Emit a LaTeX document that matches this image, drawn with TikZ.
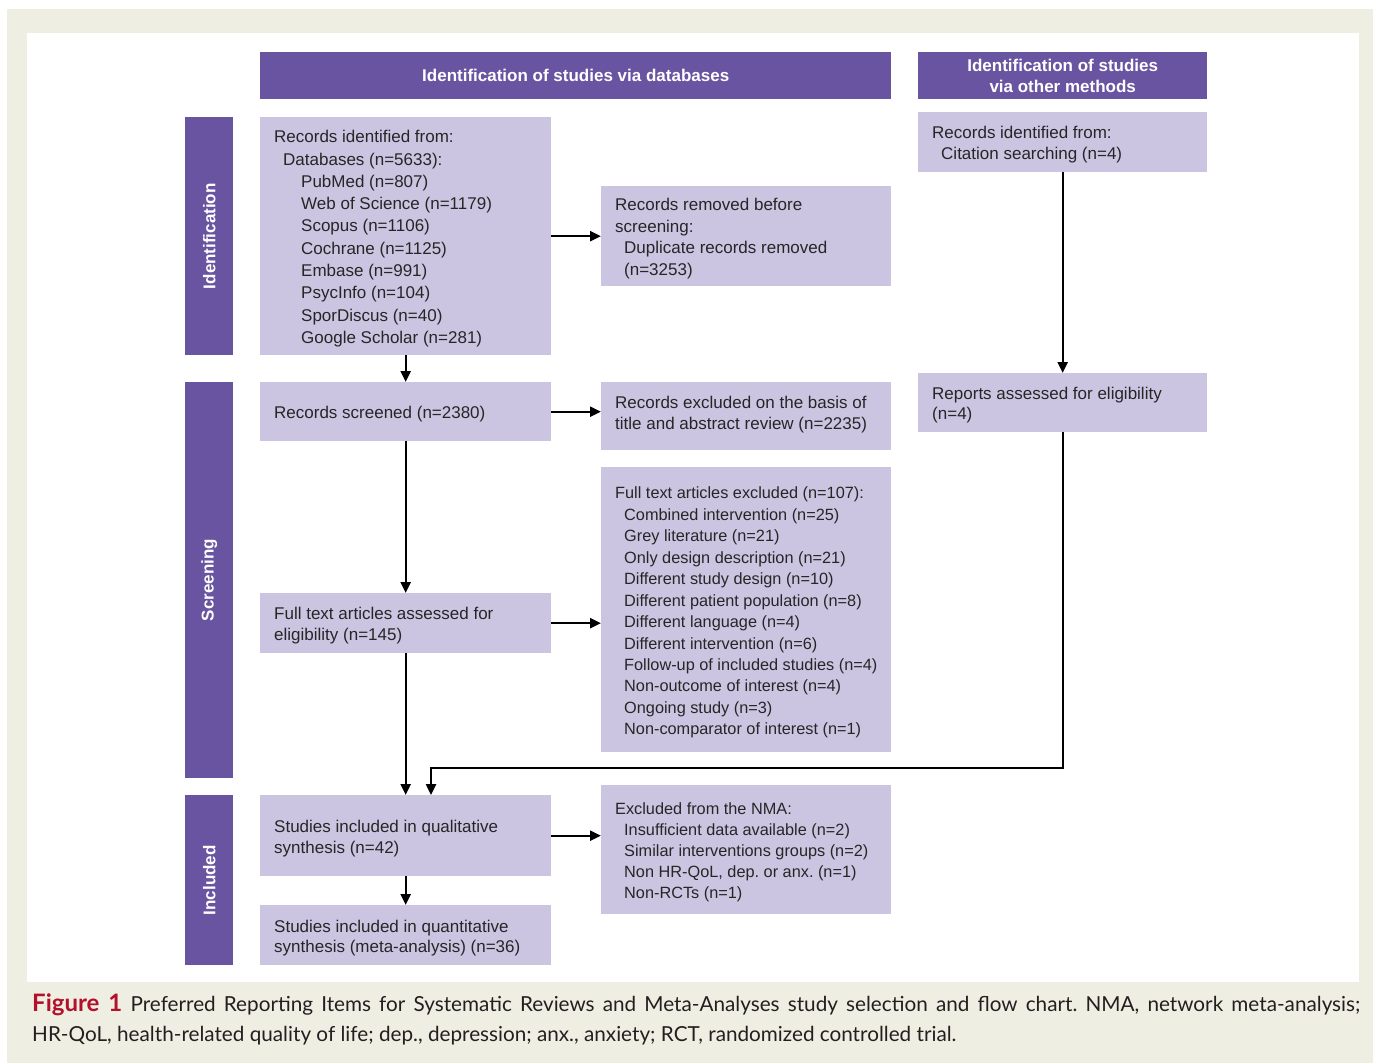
\documentclass[tikz,border=0pt]{standalone}
\usepackage{fontspec}
\setmainfont{Liberation Sans}
\newfontfamily\capfont{Lato}
\usetikzlibrary{arrows.meta,calc}
\definecolor{dpurple}{HTML}{6954A1}
\definecolor{lpurple}{HTML}{CBC5E2}
\definecolor{cream}{HTML}{EFEEE2}
\definecolor{capred}{HTML}{B3102B}
\definecolor{captxt}{HTML}{231F20}
\begin{document}
\frenchspacing
\begin{tikzpicture}[x=1pt,y=-1pt,
  box/.style={fill=lpurple, anchor=north west, inner sep=0pt},
  txt/.style={anchor=west, inner sep=0pt, align=left, text=black!85,
    font=\fontsize{17}{21.7}\selectfont},
  hdr/.style={fill=dpurple, anchor=north west, text=white, align=center, inner sep=0pt,
    font=\fontsize{17}{21}\selectfont\bfseries},
  side/.style={fill=dpurple, anchor=north west, inner sep=0pt, minimum width=48pt},
  sidetxt/.style={text=white, font=\fontsize{17}{21}\selectfont\bfseries, rotate=90},
  arr/.style={line width=2.4pt, -{Triangle[length=11pt,width=10pt]}}
]
\useasboundingbox (0,0) rectangle (1373,1063);
\fill[cream] (7,9) rectangle (1373,1063);
\fill[white] (27,33) rectangle (1359,982);

% headers
\node[hdr, minimum width=631pt, minimum height=47pt] (H1) at (260,52) {Identification of studies via databases};
\node[hdr, minimum width=289pt, minimum height=47pt] (H2) at (918,52) {Identification of studies\\via other methods};

% side bars
\node[side, minimum height=238pt] (S1) at (185,117) {};
\node[sidetxt] (S1t) at (S1.center) {Identification};
\node[side, minimum height=396pt] (S2) at (185,382) {};
\node[sidetxt] (S2t) at (S2.center) {Screening};
\node[side, minimum height=170pt] (S3) at (185,795) {};
\node[sidetxt] (S3t) at (S3.center) {Included};

% boxes
\node[box, minimum width=291pt, minimum height=238pt] (A) at (260,117) {};
\node[txt, font=\fontsize{17}{22.3}\selectfont] (At) at ($(A.west)+(14,2.5)$)
 {Records identified from:\\
  \hspace*{9pt}Databases (n=5633):\\
  \hspace*{27pt}PubMed (n=807)\\
  \hspace*{27pt}Web of Science (n=1179)\\
  \hspace*{27pt}Scopus (n=1106)\\
  \hspace*{27pt}Cochrane (n=1125)\\
  \hspace*{27pt}Embase (n=991)\\
  \hspace*{27pt}PsycInfo (n=104)\\
  \hspace*{27pt}SporDiscus (n=40)\\
  \hspace*{27pt}Google Scholar (n=281)};

\node[box, minimum width=290pt, minimum height=100pt] (B) at (601,186) {};
\node[txt] (Bt) at ($(B.west)+(14,2.5)$)
 {Records removed before\\
  screening:\\
  \hspace*{9pt}Duplicate records removed\\
  \hspace*{9pt}(n=3253)};

\node[box, minimum width=289pt, minimum height=60pt] (C) at (918,112) {};
\node[txt] (Ct) at ($(C.west)+(14,2.5)$)
 {Records identified from:\\
  \hspace*{9pt}Citation searching (n=4)};

\node[box, minimum width=291pt, minimum height=59pt] (D) at (260,382) {};
\node[txt] (Dt) at ($(D.west)+(14,2.5)$) {Records screened (n=2380)};

\node[box, minimum width=290pt, minimum height=68pt] (E) at (601,382) {};
\node[txt, font=\fontsize{17}{21}\selectfont] (Et) at ($(E.west)+(14,-2)$)
 {Records excluded on the basis of\\
  title and abstract review (n=2235)};

\node[box, minimum width=289pt, minimum height=59pt] (F) at (918,373) {};
\node[txt, font=\fontsize{17}{20.5}\selectfont] (Ft) at ($(F.west)+(14,2.5)$)
 {Reports assessed for eligibility\\
  (n=4)};

\node[box, minimum width=291pt, minimum height=60pt] (G) at (260,593) {};
\node[txt, font=\fontsize{17}{20.5}\selectfont] (Gt) at ($(G.west)+(14,2.5)$)
 {Full text articles assessed for\\
  eligibility (n=145)};

\node[box, minimum width=290pt, minimum height=285pt] (H) at (601,467) {};
\node[txt, font=\fontsize{16.3}{21.45}\selectfont] (Ht) at ($(H.west)+(14,3)$)
 {Full text articles excluded (n=107):\\
  \hspace*{9pt}Combined intervention (n=25)\\
  \hspace*{9pt}Grey literature (n=21)\\
  \hspace*{9pt}Only design description (n=21)\\
  \hspace*{9pt}Different study design (n=10)\\
  \hspace*{9pt}Different patient population (n=8)\\
  \hspace*{9pt}Different language (n=4)\\
  \hspace*{9pt}Different intervention (n=6)\\
  \hspace*{9pt}Follow-up of included studies (n=4)\\
  \hspace*{9pt}Non-outcome of interest (n=4)\\
  \hspace*{9pt}Ongoing study (n=3)\\
  \hspace*{9pt}Non-comparator of interest (n=1)};

\node[box, minimum width=291pt, minimum height=81pt] (I) at (260,795) {};
\node[txt, font=\fontsize{17}{21}\selectfont] (It) at ($(I.west)+(14,3)$)
 {Studies included in qualitative\\
  synthesis (n=42)};

\node[box, minimum width=290pt, minimum height=129pt] (J) at (601,785) {};
\node[txt, font=\fontsize{16.3}{21}\selectfont] (Jt) at ($(J.west)+(14,2.5)$)
 {Excluded from the NMA:\\
  \hspace*{9pt}Insufficient data available (n=2)\\
  \hspace*{9pt}Similar interventions groups (n=2)\\
  \hspace*{9pt}Non HR-QoL, dep. or anx. (n=1)\\
  \hspace*{9pt}Non-RCTs (n=1)};

\node[box, minimum width=291pt, minimum height=60pt] (K) at (260,905) {};
\node[txt, font=\fontsize{17}{20.5}\selectfont] (Kt) at ($(K.west)+(14,3)$)
 {Studies included in quantitative\\
  synthesis (meta-analysis) (n=36)};

% connectors
\draw[arr] (A.east) -- (A.east -| B.west);
\draw[arr] (A.south) -- (D.north);
\draw[arr] (D.east) -- (D.east -| E.west);
\draw[arr] (D.south) -- (G.north);
\draw[arr] (G.east) -- (G.east -| H.west);
\draw[arr] (G.south) -- (I.north);
\draw[arr] (C.south) -- (F.north);
\coordinate (Iin) at ($(I.north west)+(171,0)$);
\coordinate (turn) at ($(Iin)+(0,-27)$);
\draw[arr] (F.south) |- (turn) -- (Iin);
\draw[arr] (I.east) -- (I.east -| J.west);
\draw[arr] (I.south) -- (K.north);

% caption
\node[anchor=north west, text width=1328pt, align=justify, inner sep=0pt, text=captxt,
  font=\capfont\fontsize{20.7}{30}\selectfont] (cap) at (32,993)
 {{\color{capred}\fontsize{24}{30}\selectfont\bfseries Figure 1} Preferred Reporting Items for Systematic Reviews and Meta-Analyses study selection and flow chart. NMA, network meta-analysis;\linebreak HR-QoL, health-related quality of life; dep., depression; anx., anxiety; RCT, randomized controlled trial.};
\end{tikzpicture}
\end{document}
